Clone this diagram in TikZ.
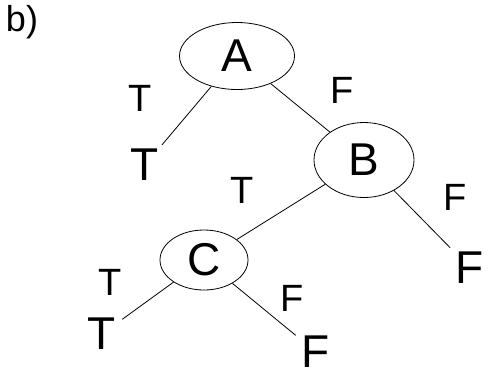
\documentclass[tikz,border=0pt]{standalone}
\usepackage{fontspec}
\setmainfont{Liberation Sans}
\usetikzlibrary{positioning,shapes.geometric}

\begin{document}
\begin{tikzpicture}[
  x=1pt, y=-1pt,
  decision/.style={draw, ellipse, line width=0.8pt, inner sep=0pt, font=\fontsize{46}{46}\selectfont},
  leaf/.style={inner sep=0pt, minimum size=40pt, font=\fontsize{46}{46}\selectfont},
  edgelab/.style={inner sep=0pt, font=\fontsize{38}{38}\selectfont},
  branch/.style={line width=0.8pt},
]
\useasboundingbox (0,0) rectangle (489,376);

\node[font=\fontsize{36}{36}\selectfont] (tag) at (22,22) {b)};

% decision nodes
\node[decision, minimum width=115pt, minimum height=67pt] (A) at (237,56) {A};
\node[decision, minimum width=100pt, minimum height=75pt] (B) at (364,160) {B};
\node[decision, minimum width=88pt, minimum height=60pt] (C) at (204,260) {C};

% leaves
\node[leaf] (tA) at (145,165) {T};
\node[leaf] (fB) at (470,268) {F};
\node[leaf] (tC) at (102,334) {T};
\node[leaf] (fC) at (316,352) {F};

% branches
\draw[branch] (A) -- (tA);
\draw[branch] (A) -- (B);
\draw[branch] (B) -- (C);
\draw[branch] (B) -- (fB);
\draw[branch] (C) -- (tC);
\draw[branch] (C) -- (fC);

% branch labels
\node[edgelab] (lAT) at (140,98) {T};
\node[edgelab] (lAF) at (342,90) {F};
\node[edgelab] (lBT) at (242,190) {T};
\node[edgelab] (lBF) at (455,197) {F};
\node[edgelab] (lCT) at (110,282) {T};
\node[edgelab] (lCF) at (292,298) {F};

\end{tikzpicture}
\end{document}
